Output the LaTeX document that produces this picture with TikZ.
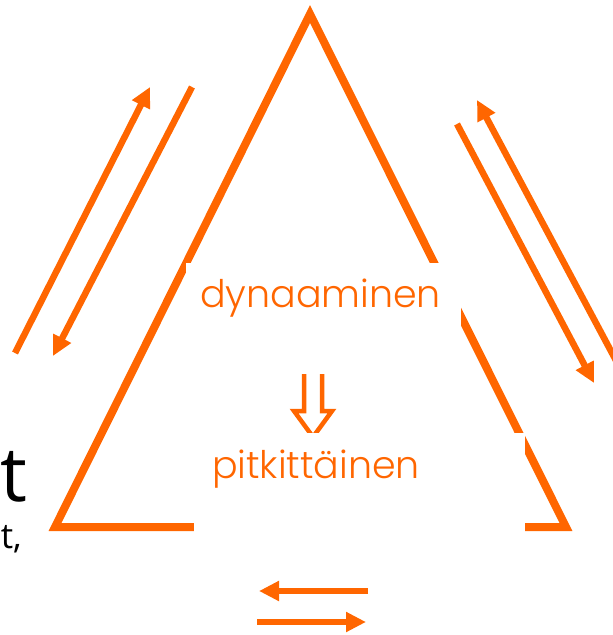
\documentclass[tikz,border=0pt]{standalone}
\usepackage{fontspec}
\newfontfamily\popl{Poppins Light}
\newfontfamily\opens{Open Sans}
\usetikzlibrary{arrows.meta}
\definecolor{orng}{HTML}{FF6600}
\begin{document}
\begin{tikzpicture}[x=1pt,y=-1pt,
  edge/.style={draw=orng, line width=8pt, line join=miter},
  arr/.style={draw=orng, line width=6.5pt, -{Triangle[length=20pt,width=19pt]}},
  mask/.style={fill=white},
  hollow/.style={draw=orng, line width=4.5pt, line join=miter},
  lbl/.style={text=orng, font=\popl\fontsize{38}{42}\selectfont, inner sep=0pt, anchor=base},
  bigt/.style={text=black, font=\opens\fontsize{76}{80}\selectfont, inner sep=0pt, anchor=base east},
  smallt/.style={text=black, font=\opens\fontsize{35}{40}\selectfont, inner sep=0pt, anchor=base east}]
\useasboundingbox (0,0) rectangle (613,635);
\clip (0,0) rectangle (613,635);
% triangle
\coordinate (top) at (310,14);
\coordinate (br) at (566,527);
\coordinate (bl) at (55,527);
\draw[edge] (top) -- (br) -- (bl) -- cycle;
% hollow double arrow
\coordinate (h1) at (304,374);
\coordinate (h2) at (304,411);
\coordinate (h3) at (294,411);
\coordinate (h4) at (313,437);
\coordinate (h5) at (332,411);
\coordinate (h6) at (322,411);
\coordinate (h7) at (322,374);
\draw[hollow] (h1) -- (h2) -- (h3) -- (h4) -- (h5) -- (h6) -- (h7);
% white text boxes covering the triangle
\fill[mask] (185.5,263) rectangle (461,345);
\fill[mask] (194,433) rectangle (525,545);
% labels
\node[lbl] (dyn) at (320.5,307) {dynaaminen};
\node[lbl] (pit) at (316,478) {pitkittäinen};
\node[bigt] (tb) at (28,501) {t};
\node[smallt] (ts) at (22,548) {t,};
% outside arrows
\coordinate (a1s) at (15,353);  \coordinate (a1e) at (150,87);
\coordinate (a2s) at (192,87);  \coordinate (a2e) at (53,356);
\coordinate (a3s) at (620,368); \coordinate (a3e) at (477,100);
\coordinate (a4s) at (457,124); \coordinate (a4e) at (594,383);
\coordinate (a5s) at (368,591); \coordinate (a5e) at (259,591);
\coordinate (a6s) at (257,622); \coordinate (a6e) at (366,622);
\draw[arr] (a1s) -- (a1e);
\draw[arr] (a2s) -- (a2e);
\draw[arr] (a3s) -- (a3e);
\draw[arr] (a4s) -- (a4e);
\draw[arr] (a5s) -- (a5e);
\draw[arr] (a6s) -- (a6e);
\end{tikzpicture}
\end{document}
